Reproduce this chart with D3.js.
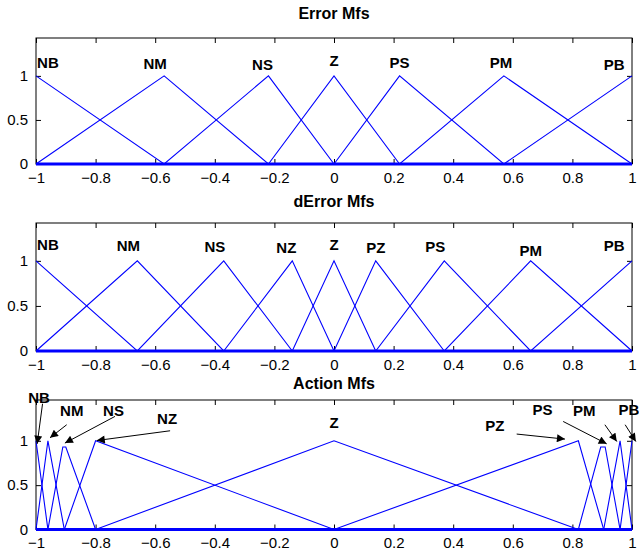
<!DOCTYPE html>
<html>
<head>
<meta charset="utf-8">
<script src="https://cdn.jsdelivr.net/npm/d3@7"></script>
<style>
  body { margin: 0; background: #fff; }
  svg { font-family: "Liberation Sans", Arial, sans-serif; }
</style>
</head>
<body>
<div id="chart"></div>
<script>
// x ticks and y ticks shared by all three panels
const xTicks = [-1, -0.8, -0.6, -0.4, -0.2, 0, 0.2, 0.4, 0.6, 0.8, 1];
const yTicks = [0, 0.5, 1];

// Error Mfs: triangles [a, b, c]
const errorNames = ['NB', 'NM', 'NS', 'Z', 'PS', 'PM', 'PB'];
const errorParams = [
  [-1, -1, -0.57], [-1, -0.57, -0.22], [-0.57, -0.22, 0], [-0.22, 0, 0.22],
  [0, 0.22, 0.57], [0.22, 0.57, 1], [0.57, 1, 1]
];
const errorLabelX = [-0.96, -0.6, -0.24, 0, 0.22, 0.56, 0.94];
const errorLabelY = [1.14, 1.12, 1.11, 1.16, 1.14, 1.14, 1.11];

// dError Mfs
const dErrorNames = ['NB', 'NM', 'NS', 'NZ', 'Z', 'PZ', 'PS', 'PM', 'PB'];
const dErrorParams = [
  [-1, -1, -0.66], [-1, -0.66, -0.37], [-0.66, -0.37, -0.14], [-0.37, -0.14, 0],
  [-0.14, 0, 0.14], [0, 0.14, 0.37], [0.14, 0.37, 0.66], [0.37, 0.66, 1], [0.66, 1, 1]
];
const dErrorLabelX = [-0.96, -0.69, -0.4, -0.16, 0, 0.14, 0.34, 0.66, 0.94];
const dErrorLabelY = [1.16, 1.15, 1.14, 1.13, 1.16, 1.13, 1.14, 1.1, 1.15];

// Action Mfs: vertices as drawn (NS / PS peaks are not sampled, flat top)
const actionNames = ['NB', 'NM', 'NS', 'NZ', 'Z', 'PZ', 'PS', 'PM', 'PB'];
const actionShapes = [
  [[-1, 1], [-0.96, 0]],
  [[-1, 0], [-0.96, 1], [-0.905, 0]],
  [[-0.96, 0], [-0.91, 0.93], [-0.9, 0.93], [-0.8, 0]],
  [[-0.905, 0], [-0.8, 1], [0, 0]],
  [[-0.8, 0], [0, 1], [0.82, 0]],
  [[0, 0], [0.82, 1], [0.905, 0]],
  [[0.82, 0], [0.895, 0.93], [0.91, 0.93], [0.96, 0]],
  [[0.905, 0], [0.96, 1], [1, 0]],
  [[0.96, 0], [1, 1]]
];
const actionLabelX = [-0.99, -0.88, -0.74, -0.56, 0, 0.54, 0.7, 0.84, 0.99];
const actionLabelY = [1.47, 1.32, 1.32, 1.23, 1.19, 1.16, 1.33, 1.32, 1.33];
// arrows [x1, y1, x2, y2] in data units, null = no arrow
const actionArrows = [
  [-0.978, 1.418, -0.996, 0.966],
  [-0.897, 1.181, -0.953, 1.034],
  [-0.735, 1.275, -0.903, 0.974],
  [-0.55, 1.113, -0.796, 1.003],
  null,
  [0.613, 1.076, 0.775, 1.019],
  [0.769, 1.218, 0.915, 0.966],
  [0.909, 1.181, 0.949, 0.992],
  [0.977, 1.181, 1.013, 0.992]
];

const width = 639, height = 554;
const left = 36, right = 632;

const svg = d3.select('#chart').append('svg')
  .attr('width', width)
  .attr('height', height);

svg.append('defs').append('marker')
  .attr('id', 'arrow')
  .attr('markerUnits', 'userSpaceOnUse')
  .attr('viewBox', '0 0 10 10')
  .attr('refX', 10).attr('refY', 5)
  .attr('markerWidth', 9).attr('markerHeight', 8)
  .attr('orient', 'auto')
  .append('path')
  .attr('d', 'M0,0 L10,5 L0,10 Z')
  .attr('fill', '#000');

function triShape(p) {
  return [[p[0], p[0] === p[1] ? 1 : 0], [p[1], 1], [p[2], p[1] === p[2] ? 1 : 0]];
}

// pad a shape with zero segments so it spans the full universe
function fullRange(pts) {
  const out = pts.slice();
  if (out[0][0] > -1) out.unshift([-1, 0]);
  if (out[out.length - 1][0] < 1) out.push([1, 0]);
  return out;
}

function drawPanel(cfg) {
  const x = d3.scaleLinear().domain([-1, 1]).range([left, right]);
  const y = d3.scaleLinear().domain([0, cfg.yMax]).range([cfg.bottom, cfg.top]);
  const g = svg.append('g');

  g.append('text')
    .attr('x', (left + right) / 2)
    .attr('y', cfg.titleY)
    .attr('text-anchor', 'middle')
    .attr('dominant-baseline', 'middle')
    .style('font-size', '16px')
    .style('font-weight', 'bold')
    .text(cfg.title);

  // bottom / left axes with inward ticks
  const xAxis = g.append('g')
    .attr('transform', 'translate(0,' + cfg.bottom + ')')
    .call(d3.axisBottom(x).tickValues(xTicks).tickSize(-5).tickPadding(8)
      .tickFormat(d => d === 0 ? '0' : d3.format('')(d).replace('-', '\u2013')));
  const yAxis = g.append('g')
    .attr('transform', 'translate(' + left + ',0)')
    .call(d3.axisLeft(y).tickValues(yTicks).tickSize(-5).tickPadding(8)
      .tickFormat(d3.format('')));
  // mirrored ticks on top / right
  g.append('g')
    .attr('transform', 'translate(0,' + cfg.top + ')')
    .call(d3.axisTop(x).tickValues(xTicks).tickSize(-5).tickFormat(''));
  g.append('g')
    .attr('transform', 'translate(' + right + ',0)')
    .call(d3.axisRight(y).tickValues(yTicks).tickSize(-5).tickFormat(''));

  g.selectAll('.domain').remove();
  g.selectAll('.tick line').attr('stroke', '#000');
  [xAxis, yAxis].forEach(a => a.selectAll('text')
    .style('font-size', '15px').attr('fill', '#000'));

  g.append('rect')
    .attr('x', left).attr('y', cfg.top)
    .attr('width', right - left).attr('height', cfg.bottom - cfg.top)
    .attr('fill', 'none').attr('stroke', '#000').attr('stroke-width', 1);

  const line = d3.line().x(d => x(d[0])).y(d => y(d[1]));
  g.selectAll('path.mf')
    .data(cfg.shapes.map(fullRange))
    .join('path')
    .attr('class', 'mf')
    .attr('d', line)
    .attr('fill', 'none')
    .attr('stroke', '#0000ff')
    .attr('stroke-width', 1.1);

  // overlapping zero segments give the heavy blue base line
  g.append('path')
    .attr('d', line([[-1, 0], [1, 0]]))
    .attr('stroke', '#0000ff')
    .attr('stroke-width', 3);

  g.selectAll('text.mflabel')
    .data(cfg.names)
    .join('text')
    .attr('class', 'mflabel')
    .attr('x', (d, i) => x(cfg.labelX[i]))
    .attr('y', (d, i) => y(cfg.labelY[i]))
    .attr('text-anchor', 'middle')
    .attr('dominant-baseline', 'middle')
    .style('font-size', '15px')
    .style('font-weight', 'bold')
    .text(d => d);

  if (cfg.arrows) {
    g.selectAll('line.arrow')
      .data(cfg.arrows.filter(a => a))
      .join('line')
      .attr('class', 'arrow')
      .attr('x1', d => x(d[0])).attr('y1', d => y(d[1]))
      .attr('x2', d => x(d[2])).attr('y2', d => y(d[3]))
      .attr('stroke', '#000')
      .attr('stroke-width', 1)
      .attr('marker-end', 'url(#arrow)');
  }
}

drawPanel({
  title: 'Error Mfs', titleY: 15, top: 38, bottom: 164, yMax: 1.43,
  names: errorNames, shapes: errorParams.map(triShape),
  labelX: errorLabelX, labelY: errorLabelY
});
drawPanel({
  title: 'dError Mfs', titleY: 203, top: 223, bottom: 351, yMax: 1.42,
  names: dErrorNames, shapes: dErrorParams.map(triShape),
  labelX: dErrorLabelX, labelY: dErrorLabelY
});
drawPanel({
  title: 'Action Mfs', titleY: 385, top: 400, bottom: 529.5, yMax: 1.46,
  names: actionNames, shapes: actionShapes,
  labelX: actionLabelX, labelY: actionLabelY, arrows: actionArrows
});
</script>
</body>
</html>
